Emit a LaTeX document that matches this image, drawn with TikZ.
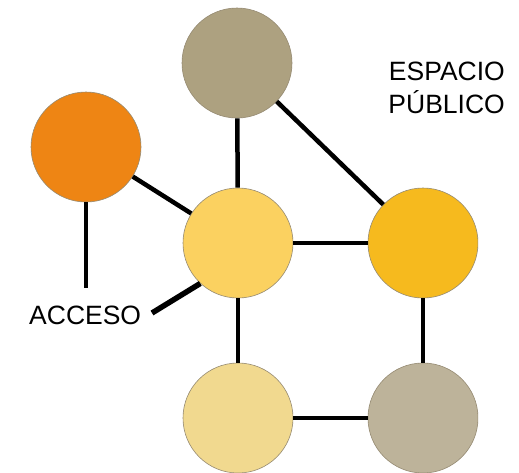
\documentclass[tikz,border=0pt]{standalone}
\usepackage{fontspec}
\setmainfont{Liberation Sans}
\usepackage{xcolor}
\definecolor{topGray}{HTML}{ADA180}
\definecolor{accOrange}{HTML}{EE8514}
\definecolor{midYellow}{HTML}{FBD160}
\definecolor{pubYellow}{HTML}{F6BA1E}
\definecolor{paleYellow}{HTML}{F1D98F}
\definecolor{lowGray}{HTML}{BDB39A}
\definecolor{rimGray}{HTML}{958A72}

\begin{document}
\begin{tikzpicture}[
    x=1pt, y=-1pt,
    roombox/.style={circle, draw=rimGray, line width=0.6pt, minimum size=110pt, inner sep=0pt},
    link/.style={line width=4.5pt},
    tagtext/.style={inner sep=0pt, font=\fontsize{26.5}{33}\selectfont, align=right}
]
\useasboundingbox (0,0) rectangle (519,472);

% Rooms
\node[roombox, fill=topGray] (top) at (237,63) {};
\node[roombox, fill=accOrange] (acc) at (86,147) {};
\node[roombox, fill=midYellow] (mid) at (238,243) {};
\node[roombox, fill=paleYellow] (low) at (238,418) {};
\begin{scope}
\clip (0,0) rectangle (478,472);
\node[roombox, fill=pubYellow] (pub) at (423,243) {};
\node[roombox, fill=lowGray] (lowr) at (423,418) {};
\end{scope}

% Links
\draw[link] (top) -- (mid);
\draw[link] (top) -- (pub);
\draw[link] (acc) -- (mid);
\draw[link] (mid) -- (pub);
\draw[link] (mid) -- (low);
\draw[link] (pub) -- (lowr);
\draw[link] (low) -- (lowr);

% Labels
\coordinate (accfoot) at (86,288);
\draw[link] (acc.south) -- (accfoot);
\node[tagtext, anchor=base west] (accesso) at (29,324) {ACCESO};
\coordinate (accarm) at (152,313);
\draw[line width=5.5pt] (accarm) -- (mid.227);
\node[tagtext, anchor=base east] (espacio) at (505,113) {ESPACIO\\PÚBLICO};

\end{tikzpicture}
\end{document}
